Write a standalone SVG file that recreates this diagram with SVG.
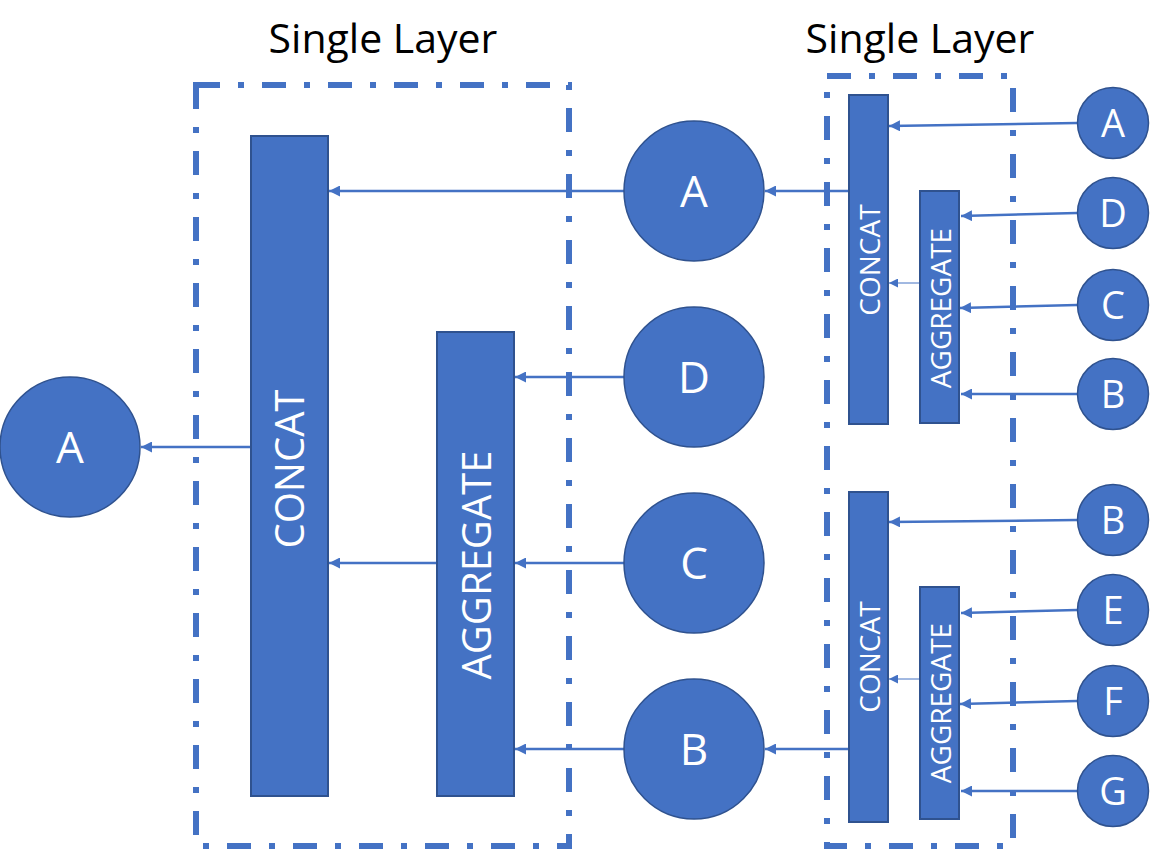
<svg xmlns="http://www.w3.org/2000/svg" width="1153" height="850" viewBox="0 0 1153 850">
<defs>
<style>
.frame{fill:none;stroke:#4472C4;stroke-width:6;stroke-dasharray:24 18 6 18}
.box{fill:#4472C4;stroke:#2F528F;stroke-width:2}
.node{fill:#4472C4;stroke:#2F528F;stroke-width:1.5}
.lbl{fill:#fff;font-family:"Open Sans","Liberation Sans",sans-serif;text-anchor:middle;dominant-baseline:central}
.let{fill:#fff;font-family:"Open Sans","Liberation Sans",sans-serif;text-anchor:middle}
.big{font-size:44px}
.sm{font-size:38px}
.title{fill:#000;font-family:"Open Sans","Liberation Sans",sans-serif;font-size:41px;text-anchor:middle}
.c{stroke:#4472C4;stroke-width:2.5;fill:none;marker-end:url(#ah)}
.t{stroke:#4472C4;stroke-width:1;fill:none;marker-end:url(#ahs)}
</style>
<marker id="ah" viewBox="0 0 10 10" refX="10" refY="5" markerWidth="4.4" markerHeight="4.4" orient="auto" markerUnits="strokeWidth"><path d="M0,0 L10,5 L0,10 z" fill="#4472C4"/></marker>
<marker id="ahs" viewBox="0 0 10 10" refX="10" refY="5" markerWidth="9" markerHeight="9" orient="auto" markerUnits="strokeWidth"><path d="M0,0 L10,5 L0,10 z" fill="#4472C4"/></marker>
</defs>
<g id="titles">
<text class="title" x="383" y="53">Single Layer</text>
<text class="title" x="920" y="53">Single Layer</text>
</g>
<g id="frames">
<rect id="frame-left" class="frame" x="196" y="85" width="373" height="761"/>
<rect id="frame-right" class="frame" x="827" y="76" width="186" height="770"/>
</g>
<g id="connectors">
<line class="c" x1="624" y1="191" x2="329" y2="191"/>
<line class="c" x1="624" y1="377" x2="515" y2="377"/>
<line class="c" x1="624" y1="563" x2="515" y2="563"/>
<line class="c" x1="624" y1="749" x2="515" y2="749"/>
<line class="c" x1="437" y1="563" x2="329" y2="563"/>
<line class="c" x1="251" y1="447" x2="141" y2="447"/>
<line class="c" x1="849" y1="191" x2="765" y2="191"/>
<line class="c" x1="849" y1="749" x2="765" y2="749"/>
<line class="c" x1="1077" y1="123" x2="889" y2="126"/>
<line class="c" x1="1077" y1="213" x2="961" y2="216"/>
<line class="c" x1="1077" y1="305" x2="960" y2="308"/>
<line class="c" x1="1077" y1="394" x2="961" y2="394"/>
<line class="t" x1="920" y1="283" x2="889" y2="283"/>
<line class="c" x1="1077" y1="520" x2="889" y2="522"/>
<line class="c" x1="1077" y1="610" x2="961" y2="613"/>
<line class="c" x1="1077" y1="701" x2="960" y2="704"/>
<line class="c" x1="1077" y1="791" x2="961" y2="791"/>
<line class="t" x1="920" y1="679" x2="889" y2="679"/>
</g>
<g id="concat-main"><rect class="box" x="251" y="136" width="77" height="660"/><text class="lbl" font-size="40" transform="translate(288.5,469) rotate(-90)">CONCAT</text></g>
<g id="aggregate-main"><rect class="box" x="437" y="332" width="77" height="464"/><text class="lbl" font-size="40" transform="translate(475.5,565) rotate(-90)">AGGREGATE</text></g>
<g id="out-A"><circle class="node" cx="70" cy="447" r="70"/><text class="let big" x="70" y="463">A</text></g>
<g id="mid-A"><circle class="node" cx="694" cy="191" r="70"/><text class="let big" x="694" y="207">A</text></g>
<g id="mid-D"><circle class="node" cx="694" cy="377" r="70"/><text class="let big" x="694" y="393">D</text></g>
<g id="mid-C"><circle class="node" cx="694" cy="563" r="70"/><text class="let big" x="694" y="579">C</text></g>
<g id="mid-B"><circle class="node" cx="694" cy="749" r="70"/><text class="let big" x="694" y="765">B</text></g>
<g id="concat-top"><rect class="box" x="849" y="95" width="39" height="329"/><text class="lbl" font-size="28" transform="translate(868.5,260) rotate(-90)">CONCAT</text></g>
<g id="aggregate-top"><rect class="box" x="920" y="191" width="39" height="232"/><text class="lbl" font-size="28" transform="translate(939.5,308) rotate(-90)">AGGREGATE</text></g>
<g id="concat-bot"><rect class="box" x="849" y="492" width="39" height="330"/><text class="lbl" font-size="28" transform="translate(868.5,657) rotate(-90)">CONCAT</text></g>
<g id="aggregate-bot"><rect class="box" x="920" y="587" width="39" height="232"/><text class="lbl" font-size="28" transform="translate(939.5,703) rotate(-90)">AGGREGATE</text></g>
<g id="in-A"><circle class="node" cx="1113" cy="123" r="35.5"/><text class="let sm" x="1113" y="137">A</text></g>
<g id="in-D"><circle class="node" cx="1113" cy="213" r="35.5"/><text class="let sm" x="1113" y="227">D</text></g>
<g id="in-C"><circle class="node" cx="1113" cy="305" r="35.5"/><text class="let sm" x="1113" y="319">C</text></g>
<g id="in-B1"><circle class="node" cx="1113" cy="394" r="35.5"/><text class="let sm" x="1113" y="408">B</text></g>
<g id="in-B2"><circle class="node" cx="1113" cy="520" r="35.5"/><text class="let sm" x="1113" y="534">B</text></g>
<g id="in-E"><circle class="node" cx="1113" cy="610" r="35.5"/><text class="let sm" x="1113" y="624">E</text></g>
<g id="in-F"><circle class="node" cx="1113" cy="701" r="35.5"/><text class="let sm" x="1113" y="715">F</text></g>
<g id="in-G"><circle class="node" cx="1113" cy="791" r="35.5"/><text class="let sm" x="1113" y="805">G</text></g>
</svg>
